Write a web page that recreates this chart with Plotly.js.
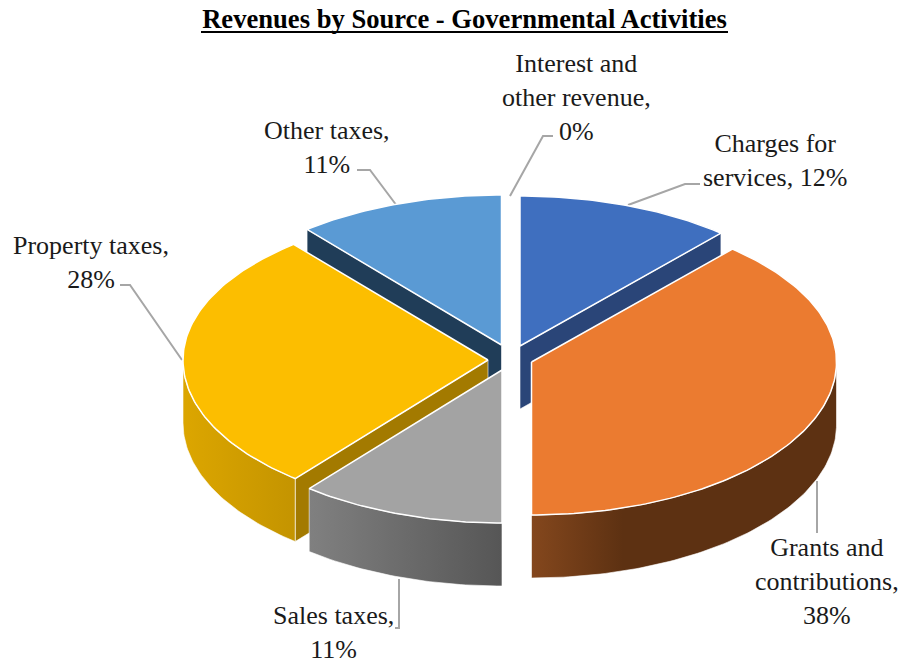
<!DOCTYPE html>
<html>
<head>
<meta charset="utf-8">
<script src="https://cdn.plot.ly/plotly-3.0.1.min.js"></script>
<style>html,body{margin:0;padding:0;background:#fff}#chart{width:905px;height:665px}</style>
</head>
<body>
<div id="chart"></div>
<script>
// Data
const categories = ['Charges for services', 'Grants and contributions', 'Sales taxes', 'Property taxes', 'Other taxes', 'Interest and other revenue'];
const shares = [12, 38, 11, 28, 11, 0];
const labelTexts = ['Charges for<br>services, 12%', 'Grants and<br>contributions,<br>38%', 'Sales taxes,<br>11%', 'Property taxes,<br>28%', 'Other taxes,<br>11%', 'Interest and<br>other revenue,<br>0%'];

// Styles
const topColors = ['#3f6fbf', '#eb7b30', '#a3a3a3', '#fcbe00', '#5a9ad4', '#70ad47'];
const edgeColors = ['#2a4578', '#6b3816', '#6b6b6b', '#a37a00', '#203d58', '#43682b'];
const rimStops = [
  ['#2a4578', '#2a4578'], 
  [[0, '#84471d'], [0.3, '#5d3112'], [1, '#5d3112']],
  [[0, '#808080'], [1, '#565656']],
  [[0, '#dcA600'], [1, '#c49400']],
  ['#203d58', '#203d58'],
  ['#43682b', '#43682b']
];

// Drawing parameters for the tilted, exploded disc
const rx = 305, ryBack = 150, ryFront = 153, depth = 63;
const sliceOrigins = [[520, 346], [531.5, 362], [502, 370], [488, 360], [501.5, 345], [510, 346]];
const deg = Math.PI / 180;
const drawOrder = [4, 0, 3, 2, 1];

// slight angular warp standing in for the perspective of the 3D view
function warp(t) {
  if (t > 0 && t < 90) return t - 2 * Math.sin(2 * t * deg);
  if (t > 180 && t < 270) return t - 0.4 * Math.sin(2 * t * deg);
  return t;
}
const px = (o, t) => o[0] + rx * Math.sin(warp(t) * deg);
const py = (o, t, d = 0) => { const c = Math.cos(warp(t) * deg); return o[1] - (c > 0 ? ryBack : ryFront) * c + d; };
function arc(a, b) { const r = []; const n = Math.max(2, Math.ceil(Math.abs(b - a))); for (let i = 0; i <= n; i++) r.push(a + (b - a) * i / n); return r; }

let start = 0;
const spans = shares.map(v => { const s = [start, start + v * 3.6]; start = s[1]; return s; });

const traces = [];
function poly(xs, ys, style) {
  traces.push(Object.assign({ type: 'scatter', mode: 'lines', x: xs, y: ys, fill: 'toself', hoverinfo: 'skip', showlegend: false }, style));
}
const whiteLine = { color: '#ffffff', width: 1.5 };

drawOrder.forEach(i => {
  const [a, b] = spans[i], o = sliceOrigins[i];
  if (b < 180) {
    poly([o[0], px(o, b), px(o, b), o[0], o[0]], [o[1], py(o, b), py(o, b, depth), o[1] + depth, o[1]],
      { fillcolor: edgeColors[i], line: { color: '#ffffff', width: 0.6 } });
  }
  if (a > 180) {
    poly([o[0], px(o, a), px(o, a), o[0], o[0]], [o[1], py(o, a), py(o, a, depth), o[1] + depth, o[1]],
      { fillcolor: edgeColors[i], line: { color: '#ffffff', width: 0.6 } });
  }
  const ra = Math.max(a, 90), rb = Math.min(b, 270);
  if (rb > ra) {
    const ts = arc(ra, rb);
    const xs = ts.map(t => px(o, t)).concat(ts.slice().reverse().map(t => px(o, t)));
    const ys = ts.map(t => py(o, t)).concat(ts.slice().reverse().map(t => py(o, t, depth)));
    xs.push(xs[0]); ys.push(ys[0]);
    poly(xs, ys, {
      fillcolor: edgeColors[i],
      fillgradient: { type: 'horizontal', colorscale: rimStops[i] },
      line: { color: '#ffffff', width: 0.6 }
    });
  }
  const ts = arc(a, b);
  poly([o[0]].concat(ts.map(t => px(o, t)), [o[0]]), [o[1]].concat(ts.map(t => py(o, t)), [o[1]]), {
    name: categories[i], fillcolor: topColors[i], line: whiteLine,
    text: categories[i] + ': ' + shares[i] + '%', hoveron: 'fills', hoverinfo: 'text'
  });
});

const labelFont = { family: '"Liberation Serif","Times New Roman",serif', size: 26, color: '#1a1a1a' };
const labelAnchors = [[775, 160], [827, 581], [333, 632], [91, 262], [327, 147], [576, 97]];
const annotations = labelTexts.map((t, i) => ({
  text: t, x: labelAnchors[i][0], y: labelAnchors[i][1], xref: 'x', yref: 'y',
  xanchor: 'center', yanchor: 'middle', align: 'center', showarrow: false, font: labelFont
}));

const leader = { color: '#a6a6a6', width: 2 };
const leaderPaths = ['M700,184 L685,184 L628,205', 'M817,481 L817,533', 'M395,628 L399,628 L399,579', 'M120,285 L130,285 L182,360', 'M357,170 L370,170 L397,206', 'M553,136 L543,136 L510,196'];
const shapes = leaderPaths.map(p => ({ type: 'path', path: p, xref: 'x', yref: 'y', line: leader, layer: 'below' }));
shapes.push({ type: 'line', xref: 'x', yref: 'y', x0: 201, x1: 728, y0: 32, y1: 32, line: { color: '#000000', width: 2 } });

Plotly.newPlot('chart', traces, {
  width: 905, height: 665,
  margin: { l: 0, r: 0, t: 0, b: 0 },
  paper_bgcolor: '#ffffff', plot_bgcolor: '#ffffff',
  showlegend: false,
  title: { text: '<b>Revenues by Source - Governmental Activities</b>', x: 464.5 / 905, xanchor: 'center', xref: 'paper', y: 1 - 19 / 665, yanchor: 'middle', yref: 'paper',
    font: { family: '"Liberation Serif","Times New Roman",serif', size: 26.6, color: '#000000' } },
  xaxis: { range: [0, 905], visible: false, fixedrange: true },
  yaxis: { range: [665, 0], visible: false, fixedrange: true },
  annotations, shapes
}, { displayModeBar: false, responsive: false });
</script>
</body>
</html>
